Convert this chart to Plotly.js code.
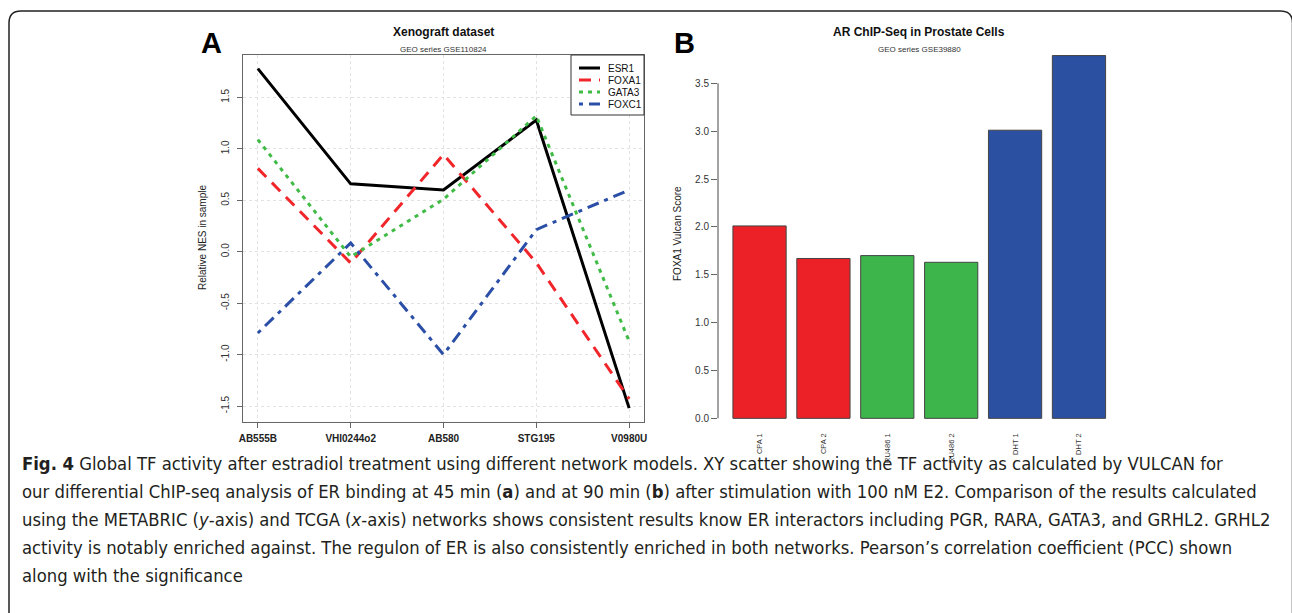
<!DOCTYPE html>
<html>
<head>
<meta charset="utf-8">
<script src="https://cdn.plot.ly/plotly-3.0.1.min.js"></script>
<style>
html,body{margin:0;padding:0;background:#fff;}
#chart{width:1292px;height:613px;}
</style>
</head>
<body>
<div id="chart"></div>
<script>
// ---- Panel A data (Xenograft dataset) ----
const samplesA = ['AB555B', 'VHI0244o2', 'AB580', 'STG195', 'V0980U'];
const esr1  = [1.78, 0.66, 0.60, 1.28, -1.52];
const foxa1 = [0.81, -0.11, 0.945, -0.107, -1.43];
const gata3 = [1.09, -0.05, 0.51, 1.32, -0.87];
const foxc1 = [-0.79, 0.085, -1.0, 0.215, 0.60];
const seriesNames = ['ESR1', 'FOXA1', 'GATA3', 'FOXC1'];
const ticksA = [-1.5, -1.0, -0.5, 0.0, 0.5, 1.0, 1.5];

// ---- Panel B data (AR ChIP-Seq in Prostate Cells) ----
const samplesB = ['CPA 1', 'CPA 2', 'RU486 1', 'RU486 2', 'DHT 1', 'DHT 2'];
const scoresB  = [2.01, 1.67, 1.70, 1.63, 3.01, 3.79];
const groupB   = ['CPA', 'CPA', 'RU486', 'RU486', 'DHT', 'DHT'];
const ticksB   = [0.0, 0.5, 1.0, 1.5, 2.0, 2.5, 3.0, 3.5];

const W = 1292, H = 613;
const px = v => v / W;
const py = v => 1 - v / H;

const groupColor = {CPA: '#ec2127', RU486: '#3db54a', DHT: '#2b4fa1'};
const seriesStyle = [
  {color: '#000000', dash: 'solid'},
  {color: '#f0262b', dash: '12px,8px'},
  {color: '#3fbb46', dash: '4px,5px'},
  {color: '#2b4fa6', dash: '4px,6px,12px,6px'}
];
const seriesData = [esr1, foxa1, gata3, foxc1];
const AX = 'Liberation Sans, Arial, sans-serif';

const traces = seriesData.map((ys, i) => ({
  x: samplesA, y: ys, name: seriesNames[i], type: 'scatter', mode: 'lines', showlegend: false,
  line: {color: seriesStyle[i].color, width: 3, dash: seriesStyle[i].dash}, xaxis: 'x', yaxis: 'y'
}));
traces.push({x: samplesB, y: scoresB, type: 'bar', showlegend: false,
  marker: {color: groupB.map(g => groupColor[g]), line: {color: '#444', width: 1}},
  xaxis: 'x2', yaxis: 'y2'});

const captionLines = [
  '<b>Fig. 4</b> Global TF activity after estradiol treatment using different network models. XY scatter showing the TF activity as calculated by VULCAN for',
  'our differential ChIP-seq analysis of ER binding at 45 min (<b>a</b>) and at 90 min (<b>b</b>) after stimulation with 100 nM E2. Comparison of the results calculated',
  'using the METABRIC (<i>y</i>-axis) and TCGA (<i>x</i>-axis) networks shows consistent results know ER interactors including PGR, RARA, GATA3, and GRHL2. GRHL2',
  'activity is notably enriched against. The regulon of ER is also consistently enriched in both networks. Pearson\u2019s correlation coefficient (PCC) shown',
  'along with the significance'
];

function ann(text, x, y, size, extra) {
  return Object.assign({text: text, x: px(x), y: py(y), xref: 'paper', yref: 'paper', showarrow: false,
    xanchor: 'center', yanchor: 'middle', font: {family: AX, size: size, color: '#111'}}, extra || {});
}

const annotations = [
  ann('<b>A</b>', 211, 43, 29, {font: {family: AX, size: 29, color: '#000'}}),
  ann('<b>B</b>', 684, 43, 29, {font: {family: AX, size: 29, color: '#000'}}),
  ann('<b>Xenograft dataset</b>', 443.5, 32, 12),
  ann('GEO series GSE110824', 443.5, 50, 8, {font: {family: AX, size: 8, color: '#333'}}),
  ann('<b>AR ChIP-Seq in Prostate Cells</b>', 919, 32, 12),
  ann('GEO series GSE39880', 919, 50, 8, {font: {family: AX, size: 8, color: '#333'}}),
  ann('Relative NES in sample', 202, 238, 10, {textangle: -90, font: {family: AX, size: 10, color: '#222'}}),
  ann('FOXA1 Vulcan Score', 677, 234, 10, {textangle: -90, font: {family: AX, size: 10, color: '#222'}})
];

// legend labels (panel A)
const legY = [68, 80, 92, 104];
seriesNames.forEach((n, i) => {
  annotations.push(ann(n, 606, legY[i], 10, {xanchor: 'left', font: {family: AX, size: 10, color: '#111'}}));
});

const capY = [463, 491, 519, 547, 575];
captionLines.forEach((t, i) => {
  annotations.push({text: t, x: px(20), y: py(capY[i]), xref: 'paper', yref: 'paper',
    xanchor: 'left', yanchor: 'middle', showarrow: false, align: 'left',
    font: {family: 'Liberation Sans Narrow, DejaVu Sans Condensed, Arial Narrow, sans-serif', size: 18.3, color: '#231f20'}});
});

const r = 12;
const framePath = `M ${px(9)} ${py(613)} L ${px(9)} ${py(11 + r)} Q ${px(9)} ${py(11)} ${px(9 + r)} ${py(11)} ` +
  `L ${px(1292.5 - r)} ${py(11)} Q ${px(1292.5)} ${py(11)} ${px(1292.5)} ${py(11 + r)} L ${px(1292.5)} ${py(613)}`;

const shapes = [
  {type: 'line', xref: 'x2 domain', yref: 'y2', x0: 0, x1: 0, y0: ticksB[0], y1: ticksB[ticksB.length - 1],
   line: {color: '#666', width: 1.2}},
  {type: 'path', xref: 'paper', yref: 'paper', path: framePath, line: {color: '#222', width: 1.5}},
  // legend box
  {type: 'rect', xref: 'paper', yref: 'paper', x0: px(571), x1: px(644), y0: py(115), y1: py(55),
   fillcolor: '#ffffff', line: {color: '#333', width: 1}, layer: 'above'}
];
seriesNames.forEach((n, i) => {
  shapes.push({type: 'line', xref: 'paper', yref: 'paper', x0: px(579), x1: px(600), y0: py(legY[i]), y1: py(legY[i]),
    line: {color: seriesStyle[i].color, width: 3, dash: seriesStyle[i].dash}, layer: 'above'});
});

const layout = {
  width: W, height: H,
  margin: {l: 0, r: 0, t: 0, b: 0, pad: 0},
  paper_bgcolor: '#ffffff', plot_bgcolor: '#ffffff',
  showlegend: false,
  xaxis: {domain: [px(243), px(644)], anchor: 'y', type: 'category', range: [-0.16, 4.16],
    showgrid: true, gridcolor: '#e2e2e2', griddash: 'dot', gridwidth: 1,
    showline: true, linecolor: '#666', linewidth: 1.2, mirror: true,
    ticks: 'outside', ticklen: 5, tickcolor: '#666', zeroline: false, ticklabelstandoff: 2,
    tickfont: {family: AX, size: 10, color: '#222', weight: 'bold'}},
  yaxis: {domain: [py(421.7), py(55)], anchor: 'x', range: [-1.652, 1.912],
    tickvals: ticksA, ticktext: ticksA.map(v => v.toFixed(1)), tickangle: -90,
    showgrid: true, gridcolor: '#e2e2e2', griddash: 'dot', gridwidth: 1,
    showline: true, linecolor: '#666', linewidth: 1.2, mirror: true,
    ticks: 'outside', ticklen: 5, tickcolor: '#666', zeroline: false, ticklabelstandoff: 4,
    tickfont: {family: AX, size: 10, color: '#333'}},
  xaxis2: {domain: [px(718), px(1120.5)], anchor: 'y2', type: 'category', range: [-0.65, 5.65],
    showgrid: false, showline: false, zeroline: false, ticks: '', tickangle: -90,
    ticklabelstandoff: 3,
    tickfont: {family: AX, size: 7.5, color: '#333'}},
  yaxis2: {domain: [py(427.9), py(40.9)], anchor: 'x2', range: [-0.1, 3.943],
    tickvals: ticksB, ticktext: ticksB.map(v => v.toFixed(1)),
    showgrid: false, showline: false, zeroline: false,
    ticks: 'outside', ticklen: 6, tickcolor: '#666',
    tickfont: {family: AX, size: 10, color: '#333'}},
  bargap: 0.1667,
  shapes: shapes,
  annotations: annotations
};

Plotly.newPlot('chart', traces, layout, {displayModeBar: false, staticPlot: true});
</script>
</body>
</html>
